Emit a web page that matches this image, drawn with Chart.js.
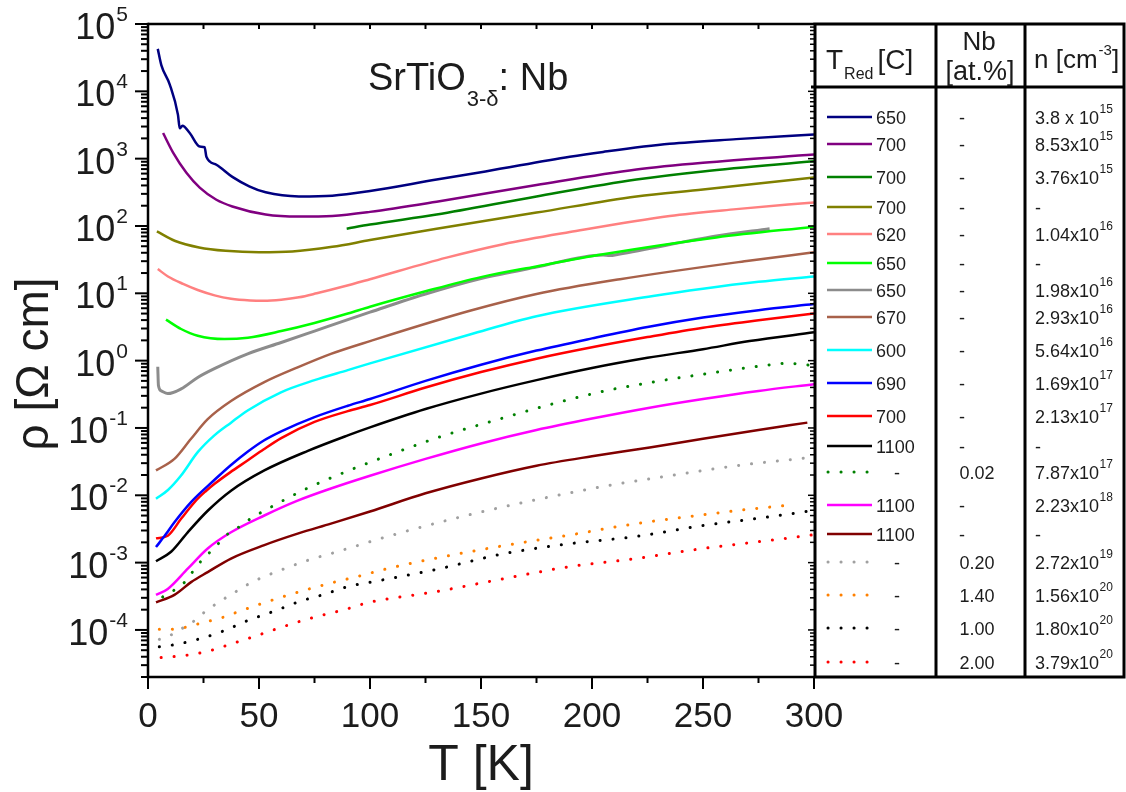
<!DOCTYPE html>
<html>
<head>
<meta charset="utf-8">
<script src="https://cdn.jsdelivr.net/npm/chart.js@4"></script>
<style>
  html, body { margin: 0; padding: 0; background: #fff; }
  canvas { display: block; }
</style>
</head>
<body>
<canvas id="rhoChart" width="1126" height="792"></canvas>
<script>
// T [K] and rho [Ohm cm], one pair per sample (legend order)
const t1 = [4.4, 6, 9.8, 13.5, 14.3, 15.5, 18.8, 23.3, 25.5, 26.3, 30.8, 38, 45.6, 53, 68, 83, 100, 130, 152, 190, 205, 235, 265, 300];
const rho1 = [42700, 24500, 12600, 4470, 2820, 3090, 2400, 1510, 1480, 1070, 813, 537, 389, 316, 275, 282, 331, 490, 646, 1070, 1260, 1660, 1950, 2290];
const t2 = [6.8, 11.3, 17.3, 23.3, 30.8, 38, 53, 68, 83, 100, 130, 175, 220, 250, 300];
const rho2 = [2400, 1230, 617, 372, 245, 195, 148, 138, 141, 162, 229, 407, 692, 871, 1150];
const t3 = [89.5, 100, 130, 175, 220, 250, 300];
const rho3 = [91.2, 105, 148, 275, 490, 646, 912];
const t4 = [4, 12, 23, 35, 50, 65, 83, 100, 130, 175, 220, 250, 300];
const rho4 = [83.2, 60.3, 47.9, 42.7, 40.7, 41.7, 49.0, 61.7, 91.2, 158, 275, 347, 525];
const t5 = [4.4, 9, 15.8, 22.4, 30, 37.4, 46, 52, 60, 68, 76, 88, 100, 134.5, 160, 190, 235, 265, 300];
const rho5 = [22.9, 17.8, 13.8, 11.2, 9.33, 8.32, 7.85, 7.76, 8.04, 8.71, 10.0, 12.6, 16.2, 33.9, 53.7, 81.3, 141, 178, 224];
const t6 = [8.1, 14.9, 22.4, 34.4, 45, 60, 75, 90, 100, 125, 150, 175, 205, 256, 300];
const rho6 = [4.07, 2.95, 2.34, 2.09, 2.19, 2.75, 3.63, 5.01, 6.31, 10.7, 17.4, 25.1, 38.0, 67.6, 97.7];
const t7 = [4.4, 4.7, 6, 8.9, 14.9, 22.4, 29.9, 44.9, 60, 75, 90, 100, 125, 150, 175, 205, 208, 212, 256, 280];
const rho7 = [0.813, 0.427, 0.355, 0.324, 0.380, 0.562, 0.759, 1.26, 1.86, 2.75, 4.07, 5.25, 9.77, 16.6, 24.5, 37.2, 36.3, 38.0, 70.8, 91.2];
const t8 = [3.6, 11.9, 19.4, 26.9, 37.4, 52.4, 67.4, 82.4, 100, 145, 175, 212.6, 269.7, 300];
const rho8 = [0.0234, 0.0347, 0.0692, 0.135, 0.251, 0.479, 0.794, 1.26, 1.95, 5.50, 9.77, 16.2, 30.2, 40.7];
const t9 = [3.6, 9, 14.8, 22.4, 29.9, 37.4, 44.9, 59.9, 75, 90, 100, 145, 175, 227.5, 250, 275, 300];
const rho9 = [0.00891, 0.0120, 0.0195, 0.0437, 0.0776, 0.120, 0.182, 0.339, 0.513, 0.724, 0.912, 2.45, 4.57, 9.12, 11.7, 14.8, 17.8];
const t10 = [3.6, 8, 11.9, 19.4, 30, 37, 45, 52, 60, 75, 90, 100, 125, 150, 175, 200, 225, 250, 275, 300];
const rho10 = [0.00170, 0.00263, 0.00398, 0.00794, 0.0170, 0.0275, 0.0447, 0.0646, 0.0891, 0.145, 0.214, 0.269, 0.501, 0.871, 1.41, 2.14, 3.16, 4.37, 5.62, 6.92];
const t11 = [3.6, 8.9, 14.9, 18.5, 22.4, 26, 30, 37, 45, 52, 60, 75, 90, 100, 125, 150, 175, 200, 225, 250, 275, 300];
const rho11 = [0.00229, 0.00251, 0.00447, 0.00631, 0.00891, 0.0115, 0.0148, 0.0219, 0.0331, 0.0479, 0.0708, 0.123, 0.178, 0.219, 0.398, 0.676, 1.07, 1.58, 2.24, 3.09, 3.98, 5.01];
const t12 = [3.6, 10.4, 17.9, 26.9, 37.4, 52.4, 72, 90, 100, 125, 150, 175, 200, 225, 250, 271, 300];
const rho12 = [0.00105, 0.00145, 0.00282, 0.00589, 0.0117, 0.0234, 0.0457, 0.0776, 0.102, 0.191, 0.324, 0.513, 0.776, 1.10, 1.48, 1.95, 2.63];
const t13 = [6.6, 12.6, 17.1, 20, 24.6, 30, 35, 41, 47, 52.4, 63, 73.4, 84.7, 100, 130.8, 160, 182.5, 205.8, 229, 252.5, 276, 288, 299];
const rho13 = [3.09e-4, 4.07e-4, 5.37e-4, 7.24e-4, 1.12e-3, 1.66e-3, 2.51e-3, 3.39e-3, 4.68e-3, 5.89e-3, 9.12e-3, 0.0135, 0.0195, 0.0309, 0.0724, 0.141, 0.229, 0.355, 0.490, 0.646, 0.832, 0.912, 0.851];
const t14 = [3.6, 8.9, 17.9, 26.9, 37.4, 52.4, 67.4, 82.4, 100, 125, 150, 175, 200, 226, 250, 275, 300];
const rho14 = [3.31e-4, 4.07e-4, 8.13e-4, 1.62e-3, 2.82e-3, 5.01e-3, 8.32e-3, 0.0126, 0.0195, 0.0347, 0.0589, 0.0933, 0.138, 0.200, 0.269, 0.355, 0.447];
const t15 = [3.6, 11.9, 19.4, 26.9, 37.4, 52.4, 67.4, 82.4, 100, 125, 150, 175, 200, 226, 250, 275, 297];
const rho15 = [2.57e-4, 3.31e-4, 5.13e-4, 7.24e-4, 1.15e-3, 1.82e-3, 2.69e-3, 3.80e-3, 5.75e-3, 0.0107, 0.0178, 0.0275, 0.0380, 0.0513, 0.0692, 0.0933, 0.120];
const t16 = [5.1, 8.9, 14.1, 19.4, 26.1, 32.2, 38.2, 44.1, 49.4, 60.7, 72.7, 84, 96, 107, 141, 170, 205, 235, 265, 298];
const rho16 = [7.24e-5, 7.94e-5, 1.0e-4, 1.26e-4, 1.91e-4, 2.63e-4, 3.47e-4, 4.57e-4, 5.62e-4, 7.94e-4, 1.10e-3, 1.41e-3, 1.86e-3, 2.40e-3, 4.79e-3, 7.94e-3, 0.0135, 0.0195, 0.0275, 0.0363];
const t17 = [5.1, 9.1, 14.1, 26.1, 33, 39, 50.2, 61.4, 72.7, 84, 95.2, 106.5, 130, 160, 190, 220, 250, 270, 288];
const rho17 = [1.02e-4, 1.02e-4, 1.05e-4, 1.32e-4, 1.51e-4, 1.78e-4, 2.40e-4, 3.16e-4, 4.07e-4, 5.13e-4, 6.31e-4, 7.94e-4, 1.17e-3, 1.78e-3, 2.57e-3, 3.80e-3, 5.13e-3, 6.17e-3, 7.08e-3];
const t18 = [5.1, 11.9, 22.4, 33.6, 45, 57, 68, 79.5, 90.7, 102, 130, 160, 190, 220, 250, 280, 299];
const rho18 = [5.62e-5, 6.03e-5, 7.24e-5, 9.55e-5, 1.38e-4, 1.91e-4, 2.63e-4, 3.39e-4, 4.47e-4, 5.25e-4, 7.94e-4, 1.35e-3, 1.91e-3, 2.45e-3, 3.55e-3, 4.79e-3, 5.89e-3];
const t19 = [5.9, 16.4, 27.7, 38.2, 49.4, 58.4, 69.7, 81, 88.5, 99.7, 130, 160, 190, 220, 250, 280, 299];
const rho19 = [3.89e-5, 4.17e-5, 4.90e-5, 6.31e-5, 8.32e-5, 1.05e-4, 1.38e-4, 1.74e-4, 2.0e-4, 2.57e-4, 3.72e-4, 5.75e-4, 8.71e-4, 1.15e-3, 1.62e-3, 2.14e-3, 2.57e-3];

// legend table columns
const tRedCol = ['650', '700', '700', '700', '620', '650', '650', '670', '600', '690', '700', '1100', '-', '1100', '1100', '-', '-', '-', '-'];
const nbCol = ['-', '-', '-', '-', '-', '-', '-', '-', '-', '-', '-', '-', '0.02', '-', '-', '0.20', '1.40', '1.00', '2.00'];
const nMant = ['3.8 x 10', '8.53x10', '3.76x10', '-', '1.04x10', '-', '1.98x10', '2.93x10', '5.64x10', '1.69x10', '2.13x10', '-', '7.87x10', '2.23x10', '-', '2.72x10', '1.56x10', '1.80x10', '3.79x10'];
const nExp = ['15', '15', '15', '', '16', '', '16', '16', '16', '17', '17', '', '17', '18', '', '19', '20', '20', '20'];

const xTicks = [0, 50, 100, 150, 200, 250, 300];
const yDecades = [-4, -3, -2, -1, 0, 1, 2, 3, 4, 5];

const temps = [t1, t2, t3, t4, t5, t6, t7, t8, t9, t10, t11, t12, t13, t14, t15, t16, t17, t18, t19];
const rhos = [rho1, rho2, rho3, rho4, rho5, rho6, rho7, rho8, rho9, rho10, rho11, rho12, rho13, rho14, rho15, rho16, rho17, rho18, rho19];

// styles
const colors = ['#000080', '#800080', '#008000', '#808000', '#ff8080', '#00ff00', '#8c8c8c', '#a8614a', '#00ffff', '#0000ff',
  '#ff0000', '#000000', '#008000', '#ff00ff', '#800000', '#a0a0a0', '#ff8000', '#000000', '#ff0000'];
const dotted = [false, false, false, false, false, false, false, false, false, false,
  false, false, true, false, false, true, true, true, true];

const FONT = '"Liberation Sans", Arial, Helvetica, sans-serif';
const INK = '#1c1c1c';
const DOTS = [0.1, 12.9];

const datasets = temps.map((t, i) => ({
  data: t.map((v, j) => ({ x: v, y: rhos[i][j] })),
  borderColor: colors[i],
  borderWidth: dotted[i] ? 3 : (i === 6 ? 3 : 2.5),
  borderDash: dotted[i] ? DOTS : [],
  borderCapStyle: dotted[i] ? 'round' : 'butt',
  pointRadius: 0,
  cubicInterpolationMode: 'monotone',
  fill: false
}));

function seg(ctx, x0, y0, x1, y1) {
  ctx.beginPath();
  ctx.moveTo(x0, y0);
  ctx.lineTo(x1, y1);
  ctx.stroke();
}

function txt(ctx, s, x, y, size, align) {
  ctx.font = size + 'px ' + FONT;
  ctx.textAlign = align || 'left';
  ctx.fillText(s, x, y);
  return ctx.measureText(s).width;
}

const frame = {
  id: 'frame',
  afterDraw(chart) {
    const { ctx, chartArea: a, scales: { x, y } } = chart;
    ctx.save();
    ctx.strokeStyle = '#000';
    ctx.fillStyle = INK;
    ctx.textBaseline = 'alphabetic';

    // spines
    ctx.lineWidth = 2.5;
    seg(ctx, a.left, a.top - 1.2, a.left, a.bottom + 1.2);
    seg(ctx, a.left, a.top, a.right, a.top);
    seg(ctx, a.left, a.bottom, a.right, a.bottom);

    // y ticks: left outward (decades long, 2..9 short), right inward
    ctx.lineWidth = 2;
    for (let e = -5; e <= 5; e++) {
      for (let m = 1; m <= 9; m++) {
        const v = m * Math.pow(10, e);
        if (v < 2e-5 * 0.999 || v > 1e5 * 1.001) continue;
        const py = y.getPixelForValue(v);
        seg(ctx, a.left - (m === 1 ? 13 : 7), py, a.left, py);
        ctx.lineWidth = 1.5;
        seg(ctx, a.right - (m === 1 ? 6 : 4), py, a.right, py);
        ctx.lineWidth = 2;
      }
    }
    // x ticks: bottom outward, top inward
    for (let t = 0; t <= 300; t += 25) {
      const px = x.getPixelForValue(t);
      seg(ctx, px, a.bottom, px, a.bottom + (t % 50 === 0 ? 12 : 6));
      if (t > 0 && t < 300) seg(ctx, px, a.top, px, a.top + 5);
    }

    // y tick labels 10^n
    yDecades.forEach(e => {
      const py = y.getPixelForValue(Math.pow(10, e));
      ctx.font = '21px ' + FONT;
      const we = ctx.measureText(String(e)).width;
      txt(ctx, String(e), 128, py - 3, 21, 'right');
      txt(ctx, '10', 127 - we, py + 15, 36, 'right');
    });
    // x tick labels
    xTicks.forEach(t => txt(ctx, String(t), x.getPixelForValue(t), a.bottom + 50, 35, 'center'));

    // axis titles
    txt(ctx, 'T [K]', (a.left + a.right) / 2, 780, 50, 'center');
    ctx.save();
    ctx.translate(35, 364);
    ctx.rotate(-Math.PI / 2);
    ctx.textBaseline = 'middle';
    txt(ctx, 'ρ [Ω cm]', 0, 0, 46, 'center');
    ctx.restore();

    // sample label
    let cx = 368;
    cx += txt(ctx, 'SrTiO', cx, 90, 38);
    cx += txt(ctx, '3-δ', cx + 1, 106, 22) + 1;
    txt(ctx, ': Nb', cx, 90, 38);

    // legend table
    const TX0 = a.right + 1, TX1 = 1124, C1 = 936, C2 = 1025, HEAD = 87;
    ctx.lineWidth = 3;
    ctx.strokeRect(TX0, a.top, TX1 - TX0, a.bottom - a.top);
    seg(ctx, TX0 - 4, HEAD, TX1, HEAD);
    seg(ctx, C1, a.top, C1, a.bottom);
    seg(ctx, C2, a.top, C2, a.bottom);

    // header
    let hx = 826;
    hx += txt(ctx, 'T', hx, 69, 28);
    hx += txt(ctx, 'Red', hx + 1, 79, 16) + 5;
    txt(ctx, '[C]', hx, 69, 28);
    txt(ctx, 'Nb', 979, 50, 26, 'center');
    txt(ctx, '[at.%]', 980, 80, 27, 'center');
    let nx = 1034;
    nx += txt(ctx, 'n [cm', nx, 68, 26);
    nx += txt(ctx, '-3', nx + 1, 55, 15) + 1;
    txt(ctx, ']', nx, 68, 26);

    // rows
    const rowY = [117, 144, 177, 207, 234, 263, 290, 317, 350, 383, 416, 446, 472, 505, 534, 562, 595, 628, 662];
    rowY.forEach((ry, i) => {
      ctx.strokeStyle = colors[i];
      if (dotted[i]) {
        ctx.lineWidth = 3;
        ctx.lineCap = 'round';
        ctx.setLineDash(DOTS);
        seg(ctx, 828, ry, 870, ry);
        ctx.setLineDash([]);
        ctx.lineCap = 'butt';
      } else {
        ctx.lineWidth = 2.5;
        seg(ctx, 827, ry, 872, ry);
      }
      const by = ry + 6.5;
      if (tRedCol[i] === '-') txt(ctx, '-', 897, by, 18, 'center');
      else txt(ctx, tRedCol[i], 876, by, 18);
      txt(ctx, nbCol[i], nbCol[i] === '-' ? 962 : 977, by, 18, 'center');
      const w = txt(ctx, nMant[i], 1035, by, 18);
      if (nExp[i]) txt(ctx, nExp[i], 1035 + w + 0.5, by - 11, 12);
    });

    ctx.restore();
  }
};

new Chart(document.getElementById('rhoChart').getContext('2d'), {
  type: 'line',
  data: { datasets },
  options: {
    responsive: false,
    animation: false,
    devicePixelRatio: 1,
    layout: { padding: { left: 148, top: 24, right: 312, bottom: 115 } },
    plugins: { legend: { display: false }, tooltip: { enabled: false } },
    scales: {
      x: { type: 'linear', min: 0, max: 300, display: false },
      y: { type: 'logarithmic', min: 2e-5, max: 1e5, display: false }
    }
  },
  plugins: [frame]
});
</script>
</body>
</html>
